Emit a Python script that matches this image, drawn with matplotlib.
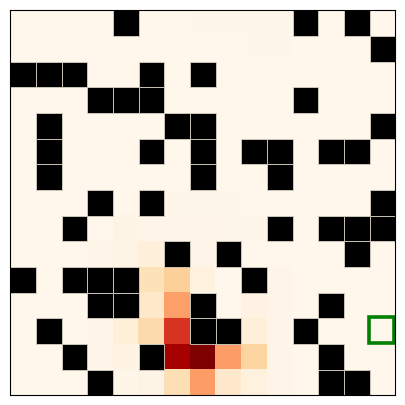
import numpy as np
import matplotlib
matplotlib.use("Agg")
from matplotlib import pyplot as plt
from matplotlib.patches import Rectangle

N = 15

# obstacle cells as (row, col), row 0 at the top
obstacles = [
    (0, 4), (0, 11), (0, 13),
    (1, 14),
    (2, 0), (2, 1), (2, 2), (2, 5), (2, 7),
    (3, 3), (3, 4), (3, 5), (3, 11),
    (4, 1), (4, 6), (4, 7), (4, 14),
    (5, 1), (5, 5), (5, 7), (5, 9), (5, 10), (5, 12), (5, 13),
    (6, 1), (6, 7), (6, 10),
    (7, 3), (7, 5), (7, 14),
    (8, 2), (8, 10), (8, 12), (8, 13), (8, 14),
    (9, 6), (9, 8), (9, 13),
    (10, 0), (10, 2), (10, 3), (10, 4), (10, 9),
    (11, 3), (11, 4), (11, 7), (11, 12),
    (12, 1), (12, 7), (12, 8), (12, 11),
    (13, 2), (13, 5), (13, 12),
    (14, 3), (14, 12), (14, 13),
]

# visit intensity (row, col, value), everything else ~0
visits = [
    (0, 7, 0.01), (0, 8, 0.01), (0, 9, 0.01), (0, 10, 0.01),
    (1, 9, 0.008), (1, 10, 0.008),
    (7, 6, 0.01), (7, 7, 0.01), (7, 8, 0.01),
    (8, 4, 0.02), (8, 5, 0.012), (8, 6, 0.012), (8, 7, 0.012), (8, 8, 0.01), (8, 9, 0.01),
    (9, 3, 0.012), (9, 4, 0.02), (9, 5, 0.06), (9, 7, 0.012),
    (10, 5, 0.17), (10, 6, 0.27), (10, 7, 0.05), (10, 10, 0.012),
    (11, 5, 0.12), (11, 6, 0.45), (11, 9, 0.035), (11, 10, 0.012),
    (12, 3, 0.012), (12, 4, 0.07), (12, 5, 0.21), (12, 6, 0.74), (12, 9, 0.07), (12, 10, 0.012),
    (13, 3, 0.012), (13, 4, 0.035), (13, 6, 0.9), (13, 7, 1.0), (13, 8, 0.46), (13, 9, 0.24),
    (13, 10, 0.012),
    (14, 4, 0.008), (14, 5, 0.02), (14, 6, 0.18), (14, 7, 0.46), (14, 8, 0.11), (14, 9, 0.05),
    (14, 10, 0.012),
]

goal = (12, 14)


def main():
    grid = np.zeros((N, N))
    for r, c, v in visits:
        grid[r, c] = v

    fig = plt.figure(figsize=(4.05, 4.05), dpi=100)
    ax = fig.add_axes([0.0254, 0.024, 0.9506, 0.9506])
    ax.imshow(grid, cmap="OrRd", vmin=0, vmax=1, interpolation="nearest",
              extent=(0, N, N, 0))

    for r, c in obstacles:
        ax.add_patch(Rectangle((c, r), 1, 1, facecolor="black",
                               edgecolor="#d8d0c4", linewidth=0.6))

    gr, gc = goal
    ax.add_patch(Rectangle((gc - 0.04, gr - 0.04), 1, 1, facecolor="none",
                           edgecolor="green", linewidth=2.6))

    ax.set_xlim(0, N)
    ax.set_ylim(N, 0)
    ax.set_xticks([])
    ax.set_yticks([])
    fig.savefig("out.png", dpi=100)


if __name__ == "__main__":
    main()
